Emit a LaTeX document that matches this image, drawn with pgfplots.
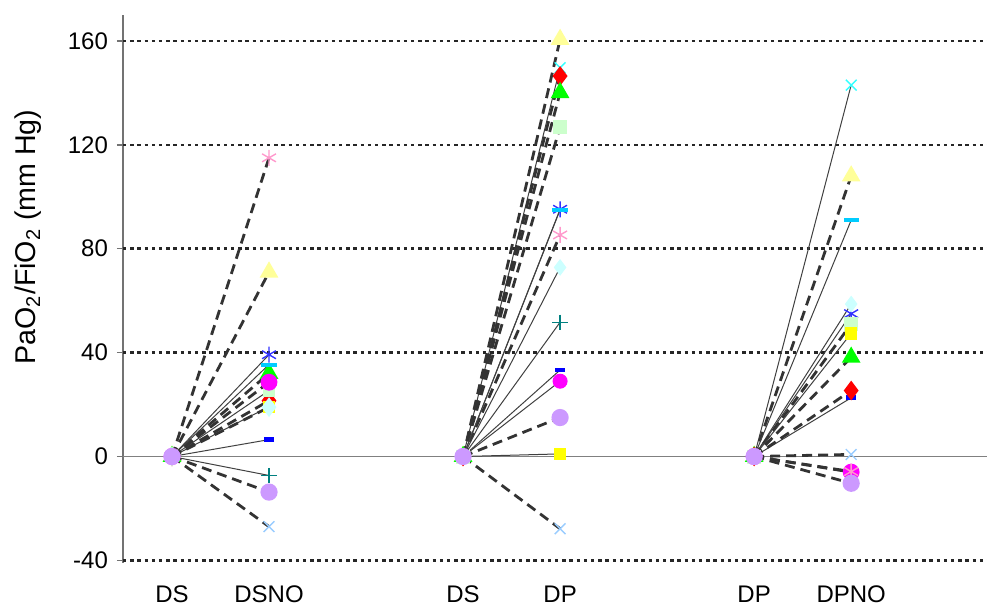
\documentclass[border=0pt]{standalone}
\usepackage{pgfplots}
\pgfplotsset{compat=1.18}
\usepackage{fontspec}
\setmainfont{Liberation Sans}
\definecolor{cPink}{HTML}{FF99CC}
\definecolor{cYelT}{HTML}{FFFF99}
\definecolor{cRed}{HTML}{FF0000}
\definecolor{cGrn}{HTML}{00FF00}
\definecolor{cYelS}{HTML}{FFFF00}
\definecolor{cLGrn}{HTML}{CCFFCC}
\definecolor{cMag}{HTML}{FF00FF}
\definecolor{cCyX}{HTML}{33FFFF}
\definecolor{cLBX}{HTML}{99CCFF}
\definecolor{cBlA}{HTML}{3333FF}
\definecolor{cCyD}{HTML}{00CCFF}
\definecolor{cBlD}{HTML}{0000FF}
\definecolor{cTeal}{HTML}{008080}
\definecolor{cLCy}{HTML}{CCFFFF}
\definecolor{cLav}{HTML}{CC99FF}
\tikzset{
  dsh/.style={color=black!80, line width=1.4pt, dash pattern=on 5pt off 3pt},
  thn/.style={color=black!75, line width=0.5pt},
}
\pgfplotsset{
  mPink/.style={mark=asterisk, mark size=4pt, mark options={solid, draw=cPink, line width=0.7pt}},
  mYelT/.style={mark=triangle*, mark size=4pt, mark options={solid, draw=cYelT, fill=cYelT}},
  mRed/.style={mark=diamond*, mark size=3.8pt, mark options={solid, draw=cRed, fill=cRed}},
  mGrn/.style={mark=triangle*, mark size=4pt, mark options={solid, draw=cGrn, fill=cGrn}},
  mYelS/.style={mark=square*, mark size=2.8pt, mark options={solid, draw=cYelS, fill=cYelS}},
  mLGrn/.style={mark=square*, mark size=2.8pt, mark options={solid, draw=cLGrn, fill=cLGrn}},
  mMag/.style={mark=*, mark size=3.5pt, mark options={solid, draw=cMag, fill=cMag}},
  mCyX/.style={mark=x, mark size=3.8pt, mark options={solid, draw=cCyX, line width=0.7pt}},
  mLBX/.style={mark=x, mark size=3.8pt, mark options={solid, draw=cLBX, line width=0.7pt}},
  mBlA/.style={mark=asterisk, mark size=4pt, mark options={solid, draw=cBlA, line width=0.7pt}},
  mCyD/.style={mark=-, mark size=3.8pt, mark options={solid, draw=cCyD, line width=2pt}},
  mBlD/.style={mark=-, mark size=2.5pt, mark options={solid, draw=cBlD, line width=2.4pt}},
  mTeal/.style={mark=+, mark size=3.8pt, mark options={solid, draw=cTeal, line width=0.7pt}},
  mLCy/.style={mark=diamond*, mark size=3.8pt, mark options={solid, draw=cLCy, fill=cLCy}},
  mLav/.style={mark=*, mark size=3.6pt, mark options={solid, draw=cLav, fill=cLav}},
}
\begin{document}
\begin{tikzpicture}
\begin{axis}[
  scale only axis,
  width=432pt, height=274pt,
  xmin=0.495, xmax=9.40,
  ymin=-41, ymax=170,
  axis y line*=left,
  axis x line*=bottom,
  x axis line style={draw=none},
  y axis line style={color=black!55, line width=0.7pt},
  xtick={1,2,4,5,7,8},
  xticklabels={DS,DSNO,DS,DP,DP,DPNO},
  xtick style={draw=none},
  xticklabel style={yshift=-5pt, font=\fontsize{12}{14}\selectfont},
  ytick={-40,0,40,80,120,160},
  yticklabel style={font=\fontsize{12}{14}\selectfont, xshift=-1pt},
  ytick style={color=black!55, line width=0.7pt},
  tick align=outside,
  major tick length=3pt,
  /pgf/number format/assume math mode=true,
  every axis y label/.style={at={(axis description cs:-0.1095,0.595)}, rotate=90, anchor=center},
  ylabel={\fontsize{14.3}{17}\selectfont PaO\textsubscript{2}/FiO\textsubscript{2} (mm Hg)},
  clip=false,
]
% grid lines
\addplot[black!85, line width=1.3pt, dash pattern=on 1.7pt off 1.9pt, forget plot] coordinates {(0.495,-40) (9.40,-40)};
\addplot[black!85, line width=1.3pt, dash pattern=on 1.7pt off 1.9pt, forget plot] coordinates {(0.495,40) (9.40,40)};
\addplot[black!85, line width=1.3pt, dash pattern=on 1.7pt off 1.9pt, forget plot] coordinates {(0.495,80) (9.40,80)};
\addplot[black!85, line width=1.3pt, dash pattern=on 1.7pt off 1.9pt, forget plot] coordinates {(0.495,120) (9.40,120)};
\addplot[black!85, line width=1.3pt, dash pattern=on 1.7pt off 1.9pt, forget plot] coordinates {(0.495,160) (9.40,160)};
\addplot[black!50, line width=0.7pt, forget plot] coordinates {(0.495,0) (9.40,0)};

% ===== Group 1: DS -> DSNO =====
\addplot[dsh, mPink] coordinates {(1,0) (2,115)};
\addplot[dsh, mYelT] coordinates {(1,0) (2,71)};
\addplot[dsh, mRed] coordinates {(1,0) (2,21.5)};
\addplot[dsh, mGrn] coordinates {(1,0) (2,32)};
\addplot[thn, mYelS] coordinates {(1,0) (2,19.2)};
\addplot[thn, mLGrn] coordinates {(1,0) (2,25.4)};
\addplot[dsh, mMag] coordinates {(1,0) (2,28.6)};
\addplot[dsh, mLBX] coordinates {(1,0) (2,-27)};
\addplot[thn, mCyD] coordinates {(1,0) (2,35.4)};
\addplot[thn, mBlA] coordinates {(1,0) (2,39.2)};
\addplot[thn, mBlD] coordinates {(1,0) (2,6.5)};
\addplot[thn, mTeal] coordinates {(1,0) (2,-7.3)};
\addplot[dsh, mLCy] coordinates {(1,0) (2,19)};
\addplot[dsh, mLav] coordinates {(1,0) (2,-13.7)};

% ===== Group 2: DS -> DP =====
\addplot[dsh, mYelT] coordinates {(4,0) (5,160.6)};
\addplot[thn, mCyX] coordinates {(4,0) (5,149.7)};
\addplot[dsh, mRed] coordinates {(4,0) (5,146.5)};
\addplot[dsh, mGrn] coordinates {(4,0) (5,140.1)};
\addplot[dsh, mLGrn] coordinates {(4,0) (5,126.9)};
\addplot[dsh, mPink] coordinates {(4,0) (5,85.3)};
\addplot[thn, mBlA] coordinates {(4,0) (5,95.2)};
\addplot[thn, mCyD] coordinates {(4,0) (5,95)};
\addplot[thn, mLCy] coordinates {(4,0) (5,72.8)};
\addplot[thn, mTeal] coordinates {(4,0) (5,51.7)};
\addplot[thn, mBlD] coordinates {(4,0) (5,33.3)};
\addplot[thn, mMag] coordinates {(4,0) (5,29)};
\addplot[thn, mYelS] coordinates {(4,0) (5,1)};
\addplot[dsh, mLBX] coordinates {(4,0) (5,-27.8)};
\addplot[dsh, mLav] coordinates {(4,0) (5,15)};

% ===== Group 3: DP -> DPNO =====
\addplot[thn, mCyX] coordinates {(7,0) (8,143)};
\addplot[dsh, mYelT] coordinates {(7,0) (8,108)};
\addplot[thn, mCyD] coordinates {(7,0) (8,91)};
\addplot[thn, mBlA] coordinates {(7,0) (8,55)};
\addplot[thn, mLCy] coordinates {(7,0) (8,58.7)};
\addplot[dsh, mLGrn] coordinates {(7,0) (8,51)};
\addplot[thn, mYelS] coordinates {(7,0) (8,47.4)};
\addplot[dsh, mGrn] coordinates {(7,0) (8,38.2)};
\addplot[thn, mBlD] coordinates {(7,0) (8,22.6)};
\addplot[dsh, mRed] coordinates {(7,0) (8,25.4)};
\addplot[dsh, mLBX] coordinates {(7,0) (8,0.8)};
\addplot[dsh, mMag] coordinates {(7,0) (8,-6)};
\addplot[dsh, mPink] coordinates {(7,0) (8,-5.8)};
\addplot[dsh, mLav] coordinates {(7,0) (8,-10.3)};

\coordinate (sw) at (rel axis cs:0,0);
\end{axis}
\pgfresetboundingbox
\path[use as bounding box] ([xshift=-61.5pt,yshift=-23pt]sw) rectangle ([xshift=432pt,yshift=281.5pt]sw);
\end{tikzpicture}
\end{document}
